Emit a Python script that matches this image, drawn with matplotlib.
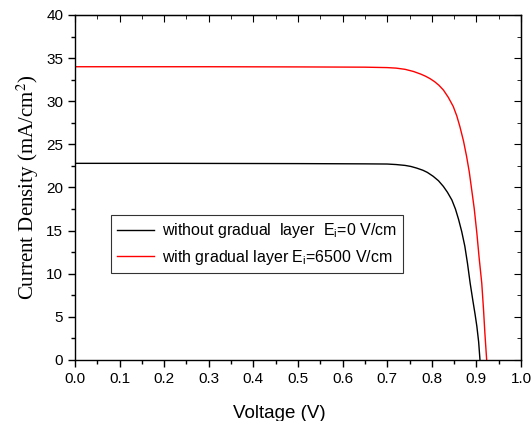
import matplotlib
matplotlib.use("Agg")
import matplotlib.pyplot as plt
from matplotlib.ticker import MultipleLocator, FormatStrFormatter

plt.rcParams['font.family'] = ['Liberation Sans', 'DejaVu Sans']
plt.rcParams['mathtext.fontset'] = 'custom'
plt.rcParams['mathtext.rm'] = 'Liberation Sans'
plt.rcParams['mathtext.it'] = 'Liberation Sans'

# J-V data
v_without = [0.0, 0.1, 0.2, 0.3, 0.4, 0.5, 0.6, 0.65, 0.70, 0.72, 0.74, 0.753, 0.766,
             0.78, 0.79, 0.803, 0.815, 0.826, 0.835, 0.845, 0.853, 0.86, 0.867,
             0.874, 0.88, 0.886, 0.892, 0.897, 0.901, 0.905, 0.908]
j_without = [22.8, 22.8, 22.8, 22.79, 22.78, 22.77, 22.75, 22.74, 22.72, 22.66, 22.56, 22.44, 22.25,
             22.0, 21.75, 21.3, 20.78, 20.12, 19.45, 18.55, 17.5, 16.3, 14.9,
             13.2, 11.2, 8.9, 6.9, 5.3, 3.9, 2.1, 0.0]

v_with = [0.0, 0.1, 0.2, 0.3, 0.4, 0.5, 0.6, 0.65, 0.70, 0.72, 0.74, 0.759, 0.775,
          0.786, 0.796, 0.806, 0.816, 0.826, 0.837, 0.848, 0.856, 0.863, 0.871,
          0.878, 0.884, 0.889, 0.895, 0.901, 0.906, 0.912, 0.916, 0.919, 0.923]
j_with = [34.0, 34.0, 34.0, 34.0, 33.99, 33.98, 33.96, 33.95, 33.9, 33.84, 33.7, 33.45, 33.15,
          32.9, 32.62, 32.28, 31.85, 31.3, 30.45, 29.4, 28.3, 27.05, 25.4,
          23.6, 21.8, 19.9, 17.6, 14.7, 11.9, 8.9, 5.8, 3.1, 0.0]

label_without = "without gradual  layer  E$_\\mathrm{i}$=0 V/cm"
label_with = "with gradual layer E$_\\mathrm{i}$=6500 V/cm"

fig = plt.figure(figsize=(5.31, 4.21), dpi=100)
ax = fig.add_axes([0.1412, 0.1449, 0.840, 0.8195])

ax.plot(v_without, j_without, color="black", lw=1.0, label=label_without)
ax.plot(v_with, j_with, color="red", lw=1.0, label=label_with)

ax.set_xlim(0.0, 1.0)
ax.set_ylim(0, 40)
ax.xaxis.set_major_locator(MultipleLocator(0.1))
ax.xaxis.set_minor_locator(MultipleLocator(0.05))
ax.yaxis.set_major_locator(MultipleLocator(5))
ax.yaxis.set_minor_locator(MultipleLocator(2.5))
ax.xaxis.set_major_formatter(FormatStrFormatter("%.1f"))

ax.tick_params(which="both", direction="out", top=False, right=False, labelsize=11)
ax.tick_params(which="major", length=5, width=1)
ax.tick_params(which="minor", length=3, width=1)

# mirrored ticks on top/right pointing inward
sec_x = ax.secondary_xaxis("top")
sec_x.xaxis.set_major_locator(MultipleLocator(0.1))
sec_x.xaxis.set_minor_locator(MultipleLocator(0.05))
sec_x.tick_params(which="both", direction="in", labeltop=False)
sec_x.tick_params(which="major", length=5)
sec_x.tick_params(which="minor", length=3)
sec_y = ax.secondary_yaxis("right")
sec_y.yaxis.set_major_locator(MultipleLocator(5))
sec_y.yaxis.set_minor_locator(MultipleLocator(2.5))
sec_y.tick_params(which="both", direction="in", labelright=False)
sec_y.tick_params(which="major", length=5)
sec_y.tick_params(which="minor", length=3)

for s in ax.spines.values():
    s.set_linewidth(1.0)

ax.set_xlabel("Voltage (V)", fontsize=13.5, labelpad=8)
ax.xaxis.set_label_coords(0.457, -0.13)
ax.set_ylabel("Current Density (mA/cm$^2$)", fontsize=15,
              family="Liberation Serif", labelpad=4)
ax.yaxis.label.set_math_fontfamily("stix")

leg = ax.legend(loc="upper left", bbox_to_anchor=(0.08, 0.42), fontsize=11.5,
                frameon=True, fancybox=False, handlelength=2.3, borderpad=0.4,
                labelspacing=0.45, handletextpad=0.5, borderaxespad=0)
leg.get_frame().set_edgecolor("black")
leg.get_frame().set_linewidth(0.8)

fig.savefig("out.png", dpi=100)
